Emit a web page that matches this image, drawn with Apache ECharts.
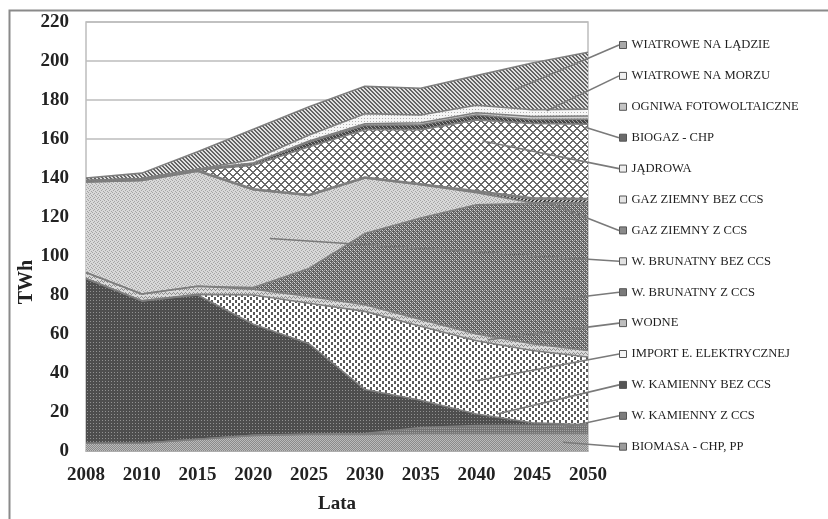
<!DOCTYPE html>
<html>
<head>
<meta charset="utf-8">
<script src="https://cdn.jsdelivr.net/npm/echarts@6/dist/echarts.min.js"></script>
<style>
  html, body { margin: 0; padding: 0; background: #fff; }
  #chart { width: 828px; height: 519px; }
</style>
</head>
<body>
<div id="chart"></div>
<script>
// Electricity generation by source, TWh
const years = ['2008', '2010', '2015', '2020', '2025', '2030', '2035', '2040', '2045', '2050'];
const yTicks = [0, 20, 40, 60, 80, 100, 120, 140, 160, 180, 200, 220];

const biomasa     = [4, 4, 6, 8, 8.5, 8.5, 9, 9, 9, 9];
const kamiennyZ   = [0, 0, 0, 0, 0.2, 0.5, 3, 4, 4.2, 4.2];
const kamiennyBez = [84.5, 73, 74, 57, 46.3, 22.5, 14, 6, 1.3, 0.2];
const importEE    = [0, 0, 0.3, 15, 20.8, 40.1, 38, 37.5, 37, 34.8];
const wodne       = [3, 3.5, 4.2, 3, 3.4, 3.4, 3.5, 3.5, 3.5, 3.3];
const brunatnyZ   = [0, 0, 0, 0.8, 14.4, 36.5, 52, 66.3, 72, 75.5];
const brunatnyBez = [46.5, 58.2, 59, 50.2, 37.4, 28.5, 17, 6.2, 0.3, 0];
const gazZ        = [0, 0, 0, 0, 0, 0, 0, 0.5, 2, 2];
const gazBez      = [0.5, 0.5, 0.5, 0.5, 0.5, 0.5, 0.5, 0.5, 0.5, 0.5];
const jadrowa     = [0, 0, 0, 12, 24.5, 24.3, 27.8, 36.3, 38.2, 38.1];
const biogaz      = [0.2, 0.5, 0.5, 1, 2.5, 2.2, 2.5, 2.5, 2, 2.5];
const ogniwa      = [0, 0, 0, 0.2, 0.5, 0.8, 1, 1.2, 1.5, 1.7];
const morzu       = [0, 0, 0, 1.8, 3, 5.2, 4, 3.8, 3.5, 3.5];
const ladzie      = [1.3, 2.8, 9, 15.5, 14.5, 14, 13.7, 15.2, 24, 29.2];

// ---- grayscale fill textures ----
function tile(w, h, bg, paint) {
  const c = document.createElement('canvas');
  c.width = w; c.height = h;
  const g = c.getContext('2d');
  g.fillStyle = bg; g.fillRect(0, 0, w, h);
  paint(g);
  return { image: c, repeat: 'repeat' };
}
function px(g, col, pts) { g.fillStyle = col; pts.forEach(p => g.fillRect(p[0], p[1], 1, 1)); }
function diag(g, col, n, dir, thick) {
  g.fillStyle = col;
  for (let y = 0; y < n; y++) for (let x = 0; x < n; x++) {
    const d = dir > 0 ? ((x - y) % n + n) % n : (x + y) % n;
    if (d < thick) g.fillRect(x, y, 1, 1);
  }
}

const P = {
  biomasa:     tile(2, 2, '#8a8a8a', g => px(g, '#bababa', [[0, 0], [1, 1]])),
  kamiennyZ:   tile(2, 2, '#747474', g => px(g, '#a4a4a4', [[0, 0]])),
  kamiennyBez: tile(3, 3, '#4e4e4e', g => px(g, '#929292', [[0, 0]])),
  importEE:    tile(6, 6, '#ffffff', g => { g.fillStyle = '#5a5a5a'; g.fillRect(1, 0, 2, 3); g.fillRect(4, 3, 2, 3); }),
  wodne:       tile(4, 4, '#dadada', g => px(g, '#8e8e8e', [[0, 1], [1, 0], [2, 1], [3, 2]])),
  brunatnyZ:   tile(4, 4, '#606060', g => { px(g, '#dadada', [[0, 0], [2, 2]]); px(g, '#ababab', [[2, 0], [0, 2], [1, 1], [3, 3]]); }),
  brunatnyBez: tile(4, 4, '#d8d8d8', g => px(g, '#a4a4a4', [[0, 0], [2, 1], [1, 2], [3, 3]])),
  gazZ:        tile(4, 4, '#c8c8c8', g => diag(g, '#3c3c3c', 4, -1, 2)),
  gazBez:      tile(4, 4, '#eeeeee', g => { g.fillStyle = '#9a9a9a'; g.fillRect(0, 0, 4, 1); }),
  jadrowa:     tile(8, 8, '#ffffff', g => { diag(g, '#6a6a6a', 8, 1, 2); diag(g, '#6a6a6a', 8, -1, 2); }),
  biogaz:      tile(4, 4, '#484848', g => diag(g, '#a0a0a0', 4, 1, 1)),
  ogniwa:      tile(3, 3, '#d2d2d2', g => px(g, '#a8a8a8', [[1, 1]])),
  morzu:       tile(3, 3, '#f6f6f6', g => px(g, '#b0b0b0', [[1, 1]])),
  ladzie:      tile(4, 4, '#e0e0e0', g => diag(g, '#646464', 4, 1, 2))
};

// stacking order, bottom to top
const layers = [
  { name: 'BIOMASA - CHP, PP',      data: biomasa,     fill: P.biomasa,     color: '#9c9c9c' },
  { name: 'W. KAMIENNY Z CCS',      data: kamiennyZ,   fill: P.kamiennyZ,   color: '#7c7c7c' },
  { name: 'W. KAMIENNY BEZ CCS',    data: kamiennyBez, fill: P.kamiennyBez, color: '#555555' },
  { name: 'IMPORT E. ELEKTRYCZNEJ', data: importEE,    fill: P.importEE,    color: '#f4f4f4' },
  { name: 'WODNE',                  data: wodne,       fill: P.wodne,       color: '#bdbdbd' },
  { name: 'W. BRUNATNY Z CCS',      data: brunatnyZ,   fill: P.brunatnyZ,   color: '#7a7a7a' },
  { name: 'W. BRUNATNY BEZ CCS',    data: brunatnyBez, fill: P.brunatnyBez, color: '#e2e2e2' },
  { name: 'GAZ ZIEMNY Z CCS',       data: gazZ,        fill: P.gazZ,        color: '#8a8a8a' },
  { name: 'GAZ ZIEMNY BEZ CCS',     data: gazBez,      fill: P.gazBez,      color: '#e4e4e4' },
  { name: 'JĄDROWA',                data: jadrowa,     fill: P.jadrowa,     color: '#eeeeee' },
  { name: 'BIOGAZ - CHP',           data: biogaz,      fill: P.biogaz,      color: '#6a6a6a' },
  { name: 'OGNIWA FOTOWOLTAICZNE',  data: ogniwa,      fill: P.ogniwa,      color: '#c4c4c4' },
  { name: 'WIATROWE NA MORZU',      data: morzu,       fill: P.morzu,       color: '#f0f0f0' },
  { name: 'WIATROWE NA LĄDZIE',     data: ladzie,      fill: P.ladzie,      color: '#a8a8a8' }
];

// where each legend leader line touches its area: [category position, TWh]
const leaderAnchors = {
  'WIATROWE NA LĄDZIE': [7.69, 185.3],
  'WIATROWE NA MORZU': [8.26, 174.5],
  'BIOGAZ - CHP': [8.95, 166],
  'JĄDROWA': [7.11, 159],
  'GAZ ZIEMNY Z CCS': [8.23, 128],
  'W. BRUNATNY BEZ CCS': [3.3, 109],
  'W. BRUNATNY Z CCS': [8.14, 76.5],
  'WODNE': [7.2, 57],
  'IMPORT E. ELEKTRYCZNEJ': [7.01, 36],
  'W. KAMIENNY BEZ CCS': [7.37, 19],
  'W. KAMIENNY Z CCS': [8.5, 11.5],
  'BIOMASA - CHP, PP': [8.55, 4.5]
};

const SERIF = '"Liberation Serif", "Times New Roman", serif';
const legendOrder = layers.map(l => l.name).reverse();
const LEG_LEFT = 619, LEG_TOP = 38, LEG_ROW = 14, LEG_GAP = 16.9;

const chart = echarts.init(document.getElementById('chart'), null, { renderer: 'canvas' });

chart.setOption({
  animation: false,
  backgroundColor: '#ffffff',
  grid: {
    left: 86, right: 240, top: 22, bottom: 60,
    show: true, borderColor: '#bdbdbd', borderWidth: 1.5, backgroundColor: 'transparent'
  },
  legend: {
    orient: 'vertical',
    left: LEG_LEFT, top: LEG_TOP,
    padding: 0,
    itemGap: LEG_GAP,
    itemWidth: 7, itemHeight: 7,
    icon: 'rect',
    selectedMode: false,
    data: legendOrder,
    itemStyle: { borderColor: '#555555', borderWidth: 1 },
    textStyle: { fontFamily: SERIF, fontSize: 12.6, color: '#1e1e1e', lineHeight: LEG_ROW }
  },
  xAxis: {
    type: 'category',
    data: years,
    boundaryGap: false,
    axisTick: { show: false },
    axisLine: { lineStyle: { color: '#a8a8a8', width: 1.5 } },
    axisLabel: { fontFamily: SERIF, fontWeight: 'bold', fontSize: 19, color: '#222222', margin: 15 },
    name: 'Lata',
    nameLocation: 'middle',
    nameGap: 44,
    nameTextStyle: { fontFamily: SERIF, fontWeight: 'bold', fontSize: 19, color: '#222222' }
  },
  yAxis: {
    type: 'value',
    min: yTicks[0], max: yTicks[yTicks.length - 1], interval: yTicks[1] - yTicks[0],
    axisLine: { show: false },
    axisTick: { show: false },
    splitLine: { lineStyle: { color: '#bdbdbd', width: 1.5 } },
    axisLabel: { fontFamily: SERIF, fontWeight: 'bold', fontSize: 19, color: '#222222', margin: 17 }
  },
  series: layers.map(l => ({
    name: l.name,
    type: 'line',
    stack: 'total',
    data: l.data,
    color: l.color,
    symbol: 'none',
    smooth: false,
    silent: true,
    lineStyle: { color: '#7e7e7e', width: 1.6 },
    areaStyle: { color: l.fill, opacity: 1 },
    emphasis: { disabled: true }
  }))
});

// leader lines from legend markers to their areas, plus frame and unit label
function toPx(ix, v) {
  const i0 = Math.floor(ix);
  const i1 = Math.min(i0 + 1, years.length - 1);
  const p0 = chart.convertToPixel({ gridIndex: 0 }, [i0, v]);
  const p1 = chart.convertToPixel({ gridIndex: 0 }, [i1, v]);
  const t = ix - i0;
  return [p0[0] + (p1[0] - p0[0]) * t, p0[1]];
}

const graphics = [
  {
    type: 'rect', silent: true,
    shape: { x: 9.5, y: 10.5, width: 840, height: 540 },
    style: { fill: 'none', stroke: '#8a8a8a', lineWidth: 2 }
  },
  {
    type: 'text', silent: true,
    x: 27, y: 282, rotation: Math.PI / 2,
    style: {
      text: 'TWh', font: 'bold 20px ' + SERIF, fill: '#222222',
      textAlign: 'center', textVerticalAlign: 'middle'
    }
  }
];

legendOrder.forEach((name, i) => {
  const a = leaderAnchors[name];
  if (!a) return;
  const p = toPx(a[0], a[1]);
  const ly = LEG_TOP + LEG_ROW / 2 + i * (LEG_ROW + LEG_GAP);
  graphics.push({
    type: 'line', silent: true, z: 100,
    shape: { x1: p[0], y1: p[1], x2: LEG_LEFT, y2: ly },
    style: { stroke: '#7a7a7a', lineWidth: 1.6 }
  });
});

chart.setOption({ graphic: graphics });
</script>
</body>
</html>
